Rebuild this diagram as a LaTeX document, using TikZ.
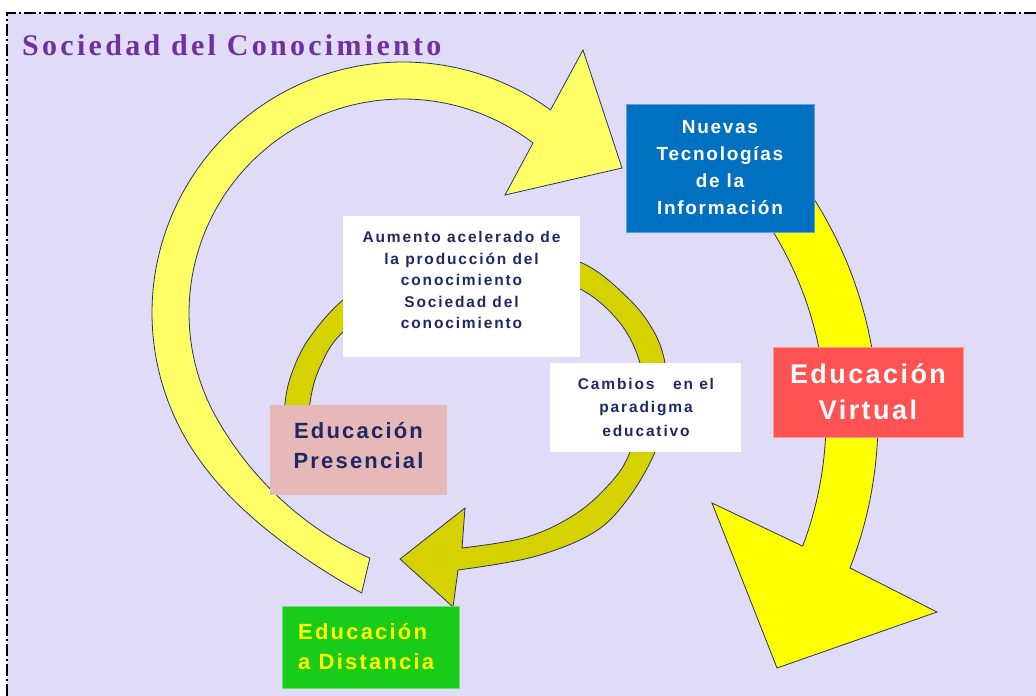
\documentclass[tikz,border=0pt]{standalone}
\usepackage{fontspec}
\setmainfont{Liberation Sans}
\newfontfamily\titlefont[LetterSpace=11]{Liberation Serif}
\definecolor{bglav}{RGB}{224,220,248}
\definecolor{bigyel}{RGB}{255,255,102}
\definecolor{olive}{RGB}{214,210,0}
\definecolor{brightyel}{RGB}{255,255,0}
\definecolor{edgec}{RGB}{40,50,100}
\definecolor{nblue}{RGB}{0,112,192}
\definecolor{vred}{RGB}{255,82,82}
\definecolor{ppink}{RGB}{230,184,183}
\definecolor{dgreen}{RGB}{26,204,26}
\definecolor{navy}{RGB}{30,40,100}
\definecolor{tpurple}{RGB}{112,48,160}
\begin{document}
\begin{tikzpicture}[x=1pt,y=-1pt,
  arrowshape/.style={draw=edgec, line width=0.8pt, line join=miter},
  boxshape/.style={inner sep=0pt, draw=none},
  smalltxt/.style={text=navy, align=center, inner sep=0pt,
    font={\bfseries\fontsize{15.5}{21.5}\selectfont\addfontfeature{LetterSpace=12}}},
  bigtxt/.style={align=center, inner sep=0pt}]
% canvas
\path[use as bounding box] (0,0) rectangle (1036,696);
\fill[white] (0,0) rectangle (1036,696);
\fill[bglav] (7,13) rectangle (1036,696);
\draw[line width=1.1pt, dash pattern=on 12pt off 3pt on 2pt off 3pt] (1036,13) -- (7,13) -- (7,696);
% title
\node[anchor=base west, inner sep=0pt, text=tpurple,
  font={\titlefont\bfseries\fontsize{30}{30}\selectfont}] (title) at (22,55) {Sociedad del Conocimiento};
% big light-yellow circular arrow (centre 403,313)
\filldraw[arrowshape, fill=bigyel]
  plot[domain=98.4:306, samples=90, variable=\t, smooth]
    ({403+(251+32*(max(0,150-\t)/51.6)^3)*cos(\t)}, {313+(251+32*(max(0,150-\t)/51.6)^3)*sin(\t)})
  -- (583,50) -- (622,168) -- (505,195)
  -- plot[domain=307.4:97.7, samples=90, variable=\t, smooth]
    ({403+(214+33.4*(max(0,150-\t)/52.3)^2)*cos(\t)}, {313+(214+33.4*(max(0,150-\t)/52.3)^2)*sin(\t)})
  -- cycle;
% olive inner circular arrow
\filldraw[arrowshape, fill=olive]
  plot[smooth, tension=0.6] coordinates {(284,450) (285,403) (293,370) (310,337) (343,300) (390,270) (450,252) (520,250) (582,263) (627,297) (653,330) (665,363) (667,405) (655,452) (627,500) (593,533) (533,557) (458,570)}
  -- (453,607) -- (400,559) -- (465,508)
  -- plot[smooth, tension=0.6] coordinates {(462,548) (527,537) (577,513) (613,480) (630,452) (644,405) (640,363) (620,323) (582,290) (530,275) (470,277) (400,292) (343,332) (320,367) (310,403) (309,445)}
  -- cycle;
% right bright-yellow arrow (centre 468,419)
\filldraw[arrowshape, fill=brightyel]
  plot[domain=-40:21.3, samples=60, variable=\t, smooth] ({468+410*cos(\t)}, {419+410*sin(\t)})
  -- (937,612) -- (777,668) -- (712,503)
  -- plot[domain=20.8:-40, samples=60, variable=\t, smooth] ({468+358*cos(\t)}, {419+358*sin(\t)})
  -- cycle;
% boxes
\node[boxshape, fill=nblue, draw={rgb,255:red,90;green,160;blue,225}, line width=0.8pt,
  minimum width=188pt, minimum height=128pt, text=white, align=center,
  font={\bfseries\fontsize{19}{27}\selectfont\addfontfeature{LetterSpace=9}}] (nuevas) at (720,168)
  {Nuevas\\Tecnologías\\de la\\Información};
\node[boxshape, fill=white, minimum width=237pt, minimum height=141pt] (aumento) at (461.5,286.5) {};
\node[smalltxt] (aumentotxt) at (461.5,280) {Aumento acelerado de\\la producción del\\conocimiento\\Sociedad del\\conocimiento};
\node[boxshape, fill=white, minimum width=191pt, minimum height=89pt] (cambios) at (645.5,407.5) {};
\node[smalltxt, font={\bfseries\fontsize{15.5}{23.5}\selectfont\addfontfeature{LetterSpace=12}}] (cambiostxt) at (646,407)
  {Cambios\hspace{1.2em}en el\\paradigma\\educativo};
\node[boxshape, fill=ppink, minimum width=177pt, minimum height=90pt] (presencial) at (358.5,450) {};
\node[bigtxt, text=navy, font={\bfseries\fontsize{22}{30}\selectfont\addfontfeature{LetterSpace=10}}] (presencialtxt) at (358.5,446)
  {Educación\\Presencial};
\node[boxshape, fill=vred, draw={rgb,255:red,255;green,150;blue,150}, line width=0.8pt,
  minimum width=190pt, minimum height=90pt, text=white, align=center,
  font={\bfseries\fontsize{27}{36}\selectfont\addfontfeature{LetterSpace=9}}] (virtual) at (868,392)
  {Educación\\Virtual};
\node[boxshape, fill=dgreen, draw={rgb,255:red,110;green,220;blue,110}, line width=0.8pt,
  minimum width=177pt, minimum height=82pt] (distancia) at (370.5,647) {};
\node[anchor=west, inner sep=0pt, align=left, text=brightyel,
  font={\bfseries\fontsize{22}{30}\selectfont\addfontfeature{LetterSpace=10}}] (distanciatxt) at (298,647)
  {Educación\\a Distancia};
\end{tikzpicture}
\end{document}
